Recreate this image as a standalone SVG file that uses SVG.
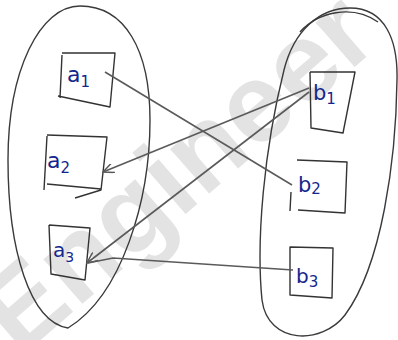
<svg xmlns="http://www.w3.org/2000/svg" width="398" height="340" viewBox="0 0 398 340">
<style>
.wm{font-family:"Liberation Sans",Arial,sans-serif;font-weight:bold;fill:#e3e3e3}
.oval{fill:none;stroke:#3a3a3a;stroke-width:1.4}
.box{fill:none;stroke:#333;stroke-width:1.4;stroke-linejoin:round}
.lbl{font-family:"DejaVu Sans","Liberation Sans",sans-serif;fill:#14268c}
.sub{font-family:"DejaVu Sans","Liberation Sans",sans-serif;fill:#14268c}
.edge{fill:none;stroke:#5a5a5a;stroke-width:1.6}
</style>
<defs>
<marker id="ah" viewBox="0 0 12 10" refX="11" refY="5" markerWidth="12" markerHeight="10" markerUnits="userSpaceOnUse" orient="auto">
<path d="M0,0 L11,5 L0,10" fill="none" stroke="#5a5a5a" stroke-width="1.5"/>
</marker>
</defs>
<rect width="398" height="340" fill="#fff"/>
<text class="wm" font-size="112" transform="translate(20,358) rotate(-41)">Engineer</text>
<g id="setA">
<path class="oval" d="M80,6 C125,6 150,50 150,120 C150,200 122,295 68,328 C30,322 8,250 8,160 C8,70 40,6 80,6 Z"/>
</g>
<g id="setB">
<path class="oval" d="M350,8 C385,8 398,40 397,80 C396,160 382,265 345,315 C322,345 268,345 262,300 C256,240 264,150 284,70 C294,30 320,8 350,8 Z"/>
<path class="oval" d="M300,32 C318,12 352,4 378,22"/>
</g>
<g id="a1">
<path class="box" d="M62,53 L115,53 L110,107 L58,96 M62,55 L60,98"/>
<text class="lbl" x="67" y="82" font-size="22">a<tspan class="sub" font-size="15" dy="5">1</tspan></text>
</g>
<g id="a2">
<path class="box" d="M47,135 L107,137 L101,190 L75,198 M101,189 L47,184 M47,136 L44,190"/>
<text class="lbl" x="47" y="168" font-size="22">a<tspan class="sub" font-size="15" dy="5">2</tspan></text>
</g>
<g id="a3">
<path class="box" d="M49,225 L90,228 L85,280 L51,274 L49,225"/>
<text class="lbl" x="53" y="257" font-size="20">a<tspan class="sub" font-size="14" dy="5">3</tspan></text>
</g>
<g id="b1">
<path class="box" d="M310,72 L355,72 L343,133 L311,128 L310,72"/>
<text class="lbl" x="313" y="100" font-size="21">b<tspan class="sub" font-size="15" dy="4">1</tspan></text>
</g>
<g id="b2">
<path class="box" d="M297,160 L347,162 L345,213 L298,210 M291,192 L290,211"/>
<text class="lbl" x="298" y="192" font-size="21">b<tspan class="sub" font-size="15" dy="2">2</tspan></text>
</g>
<g id="b3">
<path class="box" d="M290,247 L333,248 L332,298 L290,295 Z"/>
<text class="lbl" x="296" y="283" font-size="20">b<tspan class="sub" font-size="15" dy="4">3</tspan></text>
</g>
<g id="connectors">
<path class="edge" d="M105,72 L292,185"/>
<path class="edge" d="M309,88 L103,172" marker-end="url(#ah)"/>
<path class="edge" d="M309,92 L87,263" marker-end="url(#ah)"/>
<path class="edge" d="M88,263 L113,258 L293,270"/>
</g>
</svg>
